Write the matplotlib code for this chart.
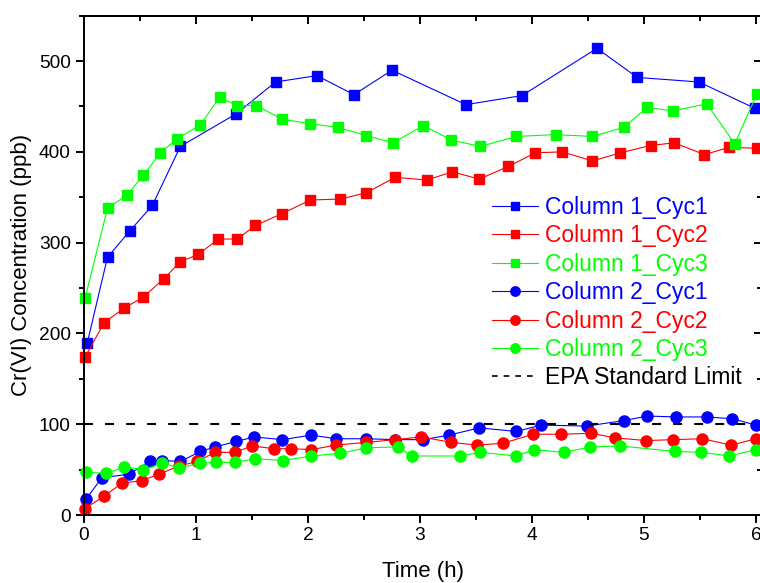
import matplotlib
matplotlib.use("Agg")
import matplotlib.pyplot as plt
from matplotlib.ticker import MultipleLocator
from matplotlib.lines import Line2D

plt.rcParams['font.family'] = ['Liberation Sans', 'DejaVu Sans']

# ---- data ----
c1_cyc1_x = [0.03, 0.21, 0.41, 0.61, 0.86, 1.36, 1.71, 2.08, 2.41, 2.75, 3.41, 3.91, 4.58, 4.94, 5.49, 5.99]
c1_cyc1_y = [190, 284, 313, 341, 406, 442, 477, 484, 463, 490, 452, 462, 514, 482, 477, 448]

c1_cyc2_x = [0.01, 0.18, 0.36, 0.53, 0.71, 0.86, 1.02, 1.20, 1.37, 1.53, 1.77, 2.02, 2.29, 2.52,
             2.78, 3.06, 3.29, 3.53, 3.79, 4.03, 4.27, 4.54, 4.79, 5.06, 5.27, 5.54, 5.76, 6.01]
c1_cyc2_y = [174, 212, 228, 240, 260, 279, 287, 304, 304, 319, 332, 347, 348, 355,
             372, 369, 378, 370, 384, 399, 400, 390, 399, 407, 410, 397, 405, 404]

c1_cyc3_x = [0.01, 0.21, 0.38, 0.53, 0.68, 0.83, 1.04, 1.21, 1.37, 1.54, 1.77, 2.02, 2.27, 2.52,
             2.76, 3.03, 3.28, 3.54, 3.86, 4.21, 4.54, 4.82, 5.03, 5.26, 5.56, 5.81, 6.01]
c1_cyc3_y = [239, 338, 352, 374, 399, 414, 430, 460, 451, 451, 436, 431, 427, 418,
             410, 429, 413, 406, 417, 419, 417, 427, 449, 445, 453, 409, 464]

c2_cyc1_x = [0.02, 0.16, 0.40, 0.59, 0.70, 0.86, 1.04, 1.17, 1.36, 1.52, 1.77, 2.03, 2.25, 2.52,
             2.78, 3.03, 3.26, 3.53, 3.86, 4.08, 4.49, 4.82, 5.03, 5.29, 5.56, 5.79, 6.00]
c2_cyc1_y = [18, 41, 45, 59, 60, 59, 70, 75, 81, 86, 83, 88, 84, 84,
             83, 83, 88, 96, 92, 99, 98, 104, 109, 108, 108, 106, 99]

c2_cyc2_x = [0.01, 0.18, 0.34, 0.52, 0.67, 0.85, 1.01, 1.17, 1.35, 1.50, 1.70, 1.85, 2.03, 2.25, 2.52,
             2.78, 3.01, 3.28, 3.51, 3.74, 4.01, 4.26, 4.53, 4.74, 5.02, 5.26, 5.52, 5.78, 6.00]
c2_cyc2_y = [7, 21, 35, 38, 45, 54, 59, 69, 69, 76, 73, 73, 72, 77, 80,
             83, 86, 80, 77, 79, 89, 89, 90, 85, 82, 83, 84, 77, 84]

c2_cyc3_x = [0.02, 0.20, 0.36, 0.53, 0.70, 0.85, 1.04, 1.18, 1.35, 1.53, 1.78, 2.03, 2.29, 2.52,
             2.80, 2.93, 3.36, 3.54, 3.86, 4.02, 4.29, 4.52, 4.79, 5.28, 5.51, 5.76, 6.00]
c2_cyc3_y = [47, 46, 53, 50, 57, 52, 57, 58, 58, 62, 60, 65, 68, 74,
             75, 65, 65, 69, 65, 72, 69, 75, 76, 70, 69, 65, 72]

epa_x = [0, 6]
epa_y = [100, 100]

labels = ["Column 1_Cyc1", "Column 1_Cyc2", "Column 1_Cyc3",
          "Column 2_Cyc1", "Column 2_Cyc2", "Column 2_Cyc3", "EPA Standard Limit"]

# ---- figure ----
fig = plt.figure(figsize=(7.6, 5.83), dpi=100)
W, H = 760, 583
left_px, right_px, top_px, bot_px = 84, 761.6, 15.7, 515
ax = fig.add_axes([left_px / W, (H - bot_px) / H, (right_px - left_px) / W, (bot_px - top_px) / H])

blue, red, green = '#0000FF', '#FF0000', '#00FF00'
sq = dict(marker='s', markersize=7.2, linewidth=0.8, clip_on=False)
ci = dict(marker='o', markersize=8.0, linewidth=0.8, clip_on=False)

handles = []
handles += ax.plot(c1_cyc1_x, c1_cyc1_y, color=blue, label=labels[0], **sq)
handles += ax.plot(c1_cyc2_x, c1_cyc2_y, color=red, label=labels[1], **sq)
handles += ax.plot(c1_cyc3_x, c1_cyc3_y, color=green, label=labels[2], **sq)
handles += ax.plot(c2_cyc1_x, c2_cyc1_y, color=blue, label=labels[3], **ci)
handles += ax.plot(c2_cyc2_x, c2_cyc2_y, color=red, label=labels[4], **ci)
handles += ax.plot(c2_cyc3_x, c2_cyc3_y, color=green, label=labels[5], **ci)
ax.plot(epa_x, epa_y, color='black', linewidth=1.5, linestyle=(0, (4.3, 5.8)), label=labels[6])
handles.append(Line2D([], [], color='black', linewidth=1.2, linestyle=(0, (3.4, 3.6))))

ax.set_xlim(0, 6.05)
ax.set_ylim(0, 550)

for s in ax.spines.values():
    s.set_linewidth(1.4)

ax.xaxis.set_major_locator(MultipleLocator(1))
ax.xaxis.set_minor_locator(MultipleLocator(0.5))
ax.yaxis.set_major_locator(MultipleLocator(100))
ax.yaxis.set_minor_locator(MultipleLocator(50))
ax.tick_params(which='both', direction='out', width=1.4, labelsize=13.8, top=False, right=False)
ax.tick_params(which='major', length=5.5)
ax.tick_params(which='minor', length=3.5)
ax.tick_params(axis='x', pad=3)
ax.tick_params(axis='y', pad=4)

# mirrored inward ticks on top and right
secx = ax.secondary_xaxis('top')
secx.xaxis.set_major_locator(MultipleLocator(1))
secx.xaxis.set_minor_locator(MultipleLocator(0.5))
secx.tick_params(which='both', direction='in', width=1.4, labeltop=False)
secx.tick_params(which='major', length=5.5)
secx.tick_params(which='minor', length=3.5)
secx.spines['top'].set_linewidth(1.4)
secy = ax.secondary_yaxis('right')
secy.yaxis.set_major_locator(MultipleLocator(100))
secy.yaxis.set_minor_locator(MultipleLocator(50))
secy.tick_params(which='both', direction='in', width=1.4, labelright=False)
secy.tick_params(which='major', length=5.5)
secy.tick_params(which='minor', length=3.5)
secy.spines['right'].set_linewidth(1.4)

ax.set_xlabel("Time (h)", fontsize=16)
ax.set_ylabel("Cr(VI) Concentration (ppb)", fontsize=16)
ax.xaxis.set_label_coords(0.5, -0.093)
ax.yaxis.set_label_coords(-0.077, 0.5)

leg = ax.legend(handles, labels, loc='upper left',
                bbox_to_anchor=((492 - left_px) / (right_px - left_px),
                                (bot_px - 196) / (bot_px - top_px)),
                frameon=False, fontsize=16.5, borderpad=0, borderaxespad=0,
                labelspacing=0.235, handlelength=2.0, handletextpad=0.3,
                markerscale=0.85, labelcolor='linecolor')

fig.savefig("out.png", dpi=100)
